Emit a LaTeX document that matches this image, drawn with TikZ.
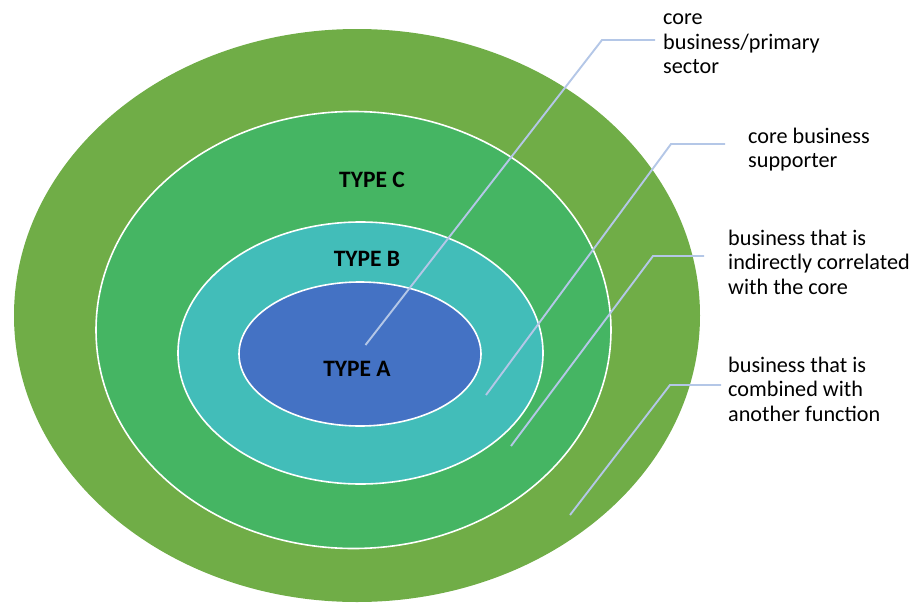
\documentclass[tikz,border=0pt]{standalone}
\usepackage{fontspec}
\setmainfont{Carlito}
\definecolor{outergreen}{HTML}{70AD47}
\definecolor{typecgreen}{HTML}{45B563}
\definecolor{typebteal}{HTML}{42BDB9}
\definecolor{typeablue}{HTML}{4472C4}
\definecolor{leadblue}{HTML}{B4C7E7}
\begin{document}
\begin{tikzpicture}[x=1pt, y=-1pt,
    ring/.style={draw=white, line width=1.6pt},
    leader/.style={leadblue, line width=1.9pt},
    note/.style={anchor=west, align=left, inner sep=0pt, font=\fontsize{22.2}{24.5}\selectfont},
    tag/.style={inner sep=0pt, font=\bfseries\fontsize{23.5}{28}\selectfont}]
    \useasboundingbox (0,0) rectangle (914,603);

    % Nested rings, outside in
    \fill[outergreen] (357,315.5) ellipse [x radius=343, y radius=286.5];
    \filldraw[ring, fill=typecgreen] (353.5,330) ellipse [x radius=257.5, y radius=218.5];
    \filldraw[ring, fill=typebteal] (360.5,353) ellipse [x radius=182.5, y radius=131];
    \filldraw[ring, fill=typeablue] (360,354) ellipse [x radius=121, y radius=72];

    % Ring names
    \node[tag] (typeC) at (372,180) {TYPE C};
    \node[tag] (typeB) at (367,259) {TYPE B};
    \node[tag] (typeA) at (357,369) {TYPE A};

    % Leader line points
    \coordinate (pA) at (365.5,345);
    \coordinate (kA) at (602,40);
    \coordinate (eA) at (655,40);
    \coordinate (pB) at (486,395);
    \coordinate (kB) at (671,144);
    \coordinate (eB) at (725,144);
    \coordinate (pC) at (511,446);
    \coordinate (kC) at (653,256);
    \coordinate (eC) at (704,256);
    \coordinate (pD) at (570,515);
    \coordinate (kD) at (670,385);
    \coordinate (eD) at (721,385);

    % Leader lines
    \draw[leader] (pA) -- (kA) -- (eA);
    \draw[leader] (pB) -- (kB) -- (eB);
    \draw[leader] (pC) -- (kC) -- (eC);
    \draw[leader] (pD) -- (kD) -- (eD);

    % Notes
    \node[note] (noteA) at (663,44) {core\\business/primary\\sector};
    \node[note] (noteB) at (748,149.5) {core business\\supporter};
    \node[note] (noteC) at (728,262) {business that is\\indirectly correlated\\with the core};
    \node[note] (noteD) at (728,389) {business that is\\combined with\\another function};
\end{tikzpicture}
\end{document}
